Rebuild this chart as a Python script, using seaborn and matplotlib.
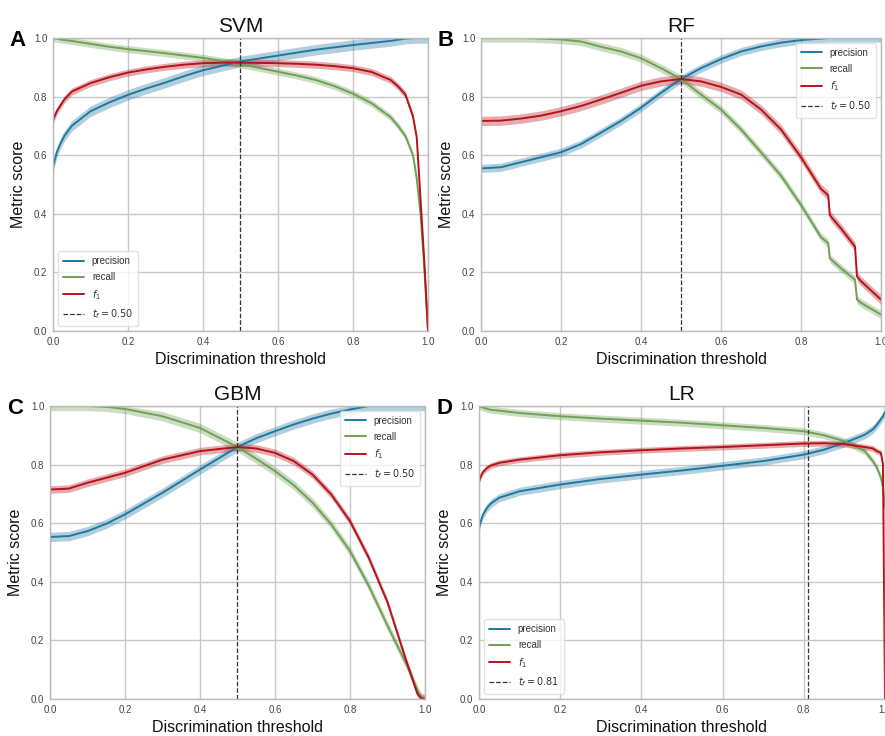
import numpy as np
import pandas as pd
import matplotlib
matplotlib.use("Agg")
import matplotlib.pyplot as plt
import seaborn as sns

# ---------------- data ----------------
svm_t = [0, 0.01, 0.02, 0.03, 0.05, 0.1, 0.15, 0.2, 0.25, 0.3, 0.35, 0.4, 0.45, 0.5, 0.55, 0.6, 0.65, 0.7, 0.75,
         0.8, 0.85, 0.9, 0.92, 0.94, 0.96, 0.97, 0.98, 0.99, 1.0]
svm_precision = [0.56, 0.61, 0.64, 0.665, 0.70, 0.75, 0.78, 0.806, 0.828, 0.848, 0.87, 0.89, 0.905, 0.92, 0.93, 0.94,
                 0.95, 0.96, 0.968, 0.976, 0.983, 0.99, 0.994, 0.998, 1.0, 1.0, 1.0, 1.0, 1.0]
svm_recall = [1.0, 0.998, 0.995, 0.993, 0.99, 0.98, 0.97, 0.962, 0.955, 0.948, 0.94, 0.932, 0.922, 0.91, 0.898, 0.885,
              0.872, 0.857, 0.836, 0.81, 0.777, 0.73, 0.70, 0.665, 0.60, 0.52, 0.40, 0.22, 0.0]
svm_f1 = [0.72, 0.75, 0.77, 0.79, 0.817, 0.846, 0.866, 0.882, 0.893, 0.902, 0.909, 0.914, 0.916, 0.916, 0.915, 0.914,
          0.912, 0.909, 0.904, 0.897, 0.884, 0.857, 0.835, 0.806, 0.732, 0.66, 0.45, 0.24, 0.0]
svm_band = [0.018, 0.012, 0.012]
svm_tf = 0.50

rf_t = [0, 0.05, 0.1, 0.15, 0.2, 0.25, 0.3, 0.35, 0.4, 0.45, 0.5, 0.55, 0.6, 0.65, 0.7, 0.75, 0.8, 0.85, 0.868,
        0.872, 0.9, 0.935, 0.94, 0.95, 1.0]
rf_precision = [0.555, 0.559, 0.576, 0.593, 0.61, 0.638, 0.677, 0.717, 0.762, 0.813, 0.86, 0.897, 0.928, 0.954,
                0.971, 0.984, 0.993, 0.998, 1.0, 1.0, 1.0, 1.0, 1.0, 1.0, 1.0]
rf_recall = [1.0, 1.0, 1.0, 0.998, 0.995, 0.988, 0.97, 0.954, 0.931, 0.897, 0.86, 0.807, 0.756, 0.688, 0.61, 0.53,
             0.43, 0.32, 0.30, 0.248, 0.214, 0.175, 0.107, 0.096, 0.056]
rf_f1 = [0.717, 0.718, 0.725, 0.735, 0.75, 0.768, 0.79, 0.813, 0.837, 0.852, 0.86, 0.852, 0.833, 0.807, 0.756,
         0.688, 0.593, 0.485, 0.463, 0.395, 0.35, 0.288, 0.186, 0.17, 0.107]
rf_band = [0.014, 0.014, 0.016]
rf_tf = 0.50

gbm_t = [0, 0.05, 0.1, 0.15, 0.2, 0.3, 0.4, 0.5, 0.55, 0.6, 0.65, 0.7, 0.75, 0.8, 0.85, 0.9, 0.95, 0.98, 0.99, 1.0]
gbm_precision = [0.553, 0.556, 0.573, 0.598, 0.63, 0.704, 0.783, 0.86, 0.89, 0.914, 0.937, 0.957, 0.974, 0.988,
                 1.0, 1.0, 1.0, 1.0, 1.0, 1.0]
gbm_recall = [1.0, 1.0, 1.0, 0.997, 0.99, 0.965, 0.925, 0.86, 0.82, 0.778, 0.73, 0.67, 0.596, 0.505, 0.386, 0.25,
              0.12, 0.03, 0.005, 0.0]
gbm_f1 = [0.715, 0.718, 0.738, 0.755, 0.772, 0.817, 0.846, 0.86, 0.855, 0.84, 0.812, 0.766, 0.698, 0.607, 0.482,
          0.33, 0.13, 0.017, 0.003, 0.0]
gbm_band = [0.016, 0.016, 0.013]
gbm_tf = 0.50

lr_t = [0, 0.005, 0.01, 0.02, 0.03, 0.05, 0.1, 0.2, 0.3, 0.4, 0.5, 0.6, 0.7, 0.8, 0.85, 0.9, 0.95, 0.97, 0.98,
        0.99, 0.995, 1.0]
lr_precision = [0.585, 0.61, 0.63, 0.653, 0.668, 0.687, 0.709, 0.732, 0.751, 0.766, 0.78, 0.796, 0.812, 0.834,
                0.851, 0.874, 0.902, 0.92, 0.936, 0.955, 0.965, 0.98]
lr_recall = [1.0, 0.997, 0.995, 0.99, 0.987, 0.984, 0.976, 0.965, 0.957, 0.95, 0.943, 0.934, 0.925, 0.914, 0.9,
             0.88, 0.846, 0.812, 0.79, 0.755, 0.72, 0.653]
lr_f1 = [0.743, 0.762, 0.775, 0.789, 0.797, 0.806, 0.817, 0.832, 0.842, 0.849, 0.855, 0.86, 0.866, 0.872, 0.873,
         0.87, 0.86, 0.855, 0.846, 0.84, 0.80, 0.0]
lr_band = [0.014, 0.012, 0.01]
lr_tf = 0.81

titles = ["SVM", "RF", "GBM", "LR"]
letters = ["A", "B", "C", "D"]
metrics = ["precision", "recall", "$f_1$"]
ticks = [0.0, 0.2, 0.4, 0.6, 0.8, 1.0]
tick_labels = ["0.0", "0.2", "0.4", "0.6", "0.8", "1.0"]

# ---------------- style ----------------
sns.set_theme(style="whitegrid")
plt.rcParams["font.family"] = ["Liberation Sans", "DejaVu Sans"]
plt.rcParams["mathtext.fontset"] = "dejavusans"

colors = ["#20789e", "#709f55", "#b5121b"]

fig = plt.figure(figsize=(8.85, 7.36), dpi=100)
W, H = 885.0, 736.0
rects = [
    (53, 38, 428, 331),
    (481, 38, 881, 331),
    (50, 406, 425, 699),
    (479, 406, 885, 699),
]
panels = [
    (svm_t, [svm_precision, svm_recall, svm_f1], svm_band, svm_tf, "lower left"),
    (rf_t, [rf_precision, rf_recall, rf_f1], rf_band, rf_tf, "upper right"),
    (gbm_t, [gbm_precision, gbm_recall, gbm_f1], gbm_band, gbm_tf, "upper right"),
    (lr_t, [lr_precision, lr_recall, lr_f1], lr_band, lr_tf, "lower left"),
]

for i, ((l, t, r, b), (thr, series, band, tf, loc)) in enumerate(zip(rects, panels)):
    ax = fig.add_axes([l / W, 1 - b / H, (r - l) / W, (b - t) / H])
    thr = np.asarray(thr)
    for vals, bw, col, name in zip(series, band, colors, metrics):
        v = np.asarray(vals)
        ax.fill_between(thr, np.clip(v - bw, 0, 1), np.clip(v + bw, 0, 1),
                        color=col, alpha=0.35, linewidth=0)
        df = pd.DataFrame({"threshold": thr, "score": v})
        sns.lineplot(data=df, x="threshold", y="score", ax=ax, color=col,
                     linewidth=1.4, label=name, estimator=None, sort=False)
    ax.axvline(tf, color="#333333", linestyle="--", linewidth=0.9,
               label="$t_f = %.2f$" % tf)
    ax.set_xlim(0, 1)
    ax.set_ylim(0, 1)
    ax.set_xticks(ticks)
    ax.set_xticklabels(tick_labels)
    ax.set_yticks(ticks)
    ax.set_yticklabels(tick_labels)
    ax.tick_params(axis="both", labelsize=7, colors="#444444", length=0, pad=4)
    ax.grid(True, color="#c8c8c8", linewidth=1.0)
    for s in ax.spines.values():
        s.set_color("#bbbbbb")
        s.set_linewidth(1.0)
    ax.set_xlabel("Discrimination threshold", fontsize=11.5, color="#111111", labelpad=4)
    ax.set_ylabel("Metric score", fontsize=11.5, color="#111111", labelpad=6)
    ax.set_title(titles[i], fontsize=15, color="#111111", pad=4)
    leg = ax.legend(loc=loc, fontsize=7, frameon=True, handlelength=2.2,
                    borderpad=0.5, labelspacing=0.6)
    leg.get_frame().set_edgecolor("#dddddd")
    leg.get_frame().set_facecolor("white")
    for txt in leg.get_texts():
        txt.set_color("#333333")
    fig.text((l - 35) / W, 1 - (t + 2) / H, letters[i], fontsize=16,
             fontweight="bold", color="black", ha="center", va="center")

fig.savefig("out.png", dpi=100)
